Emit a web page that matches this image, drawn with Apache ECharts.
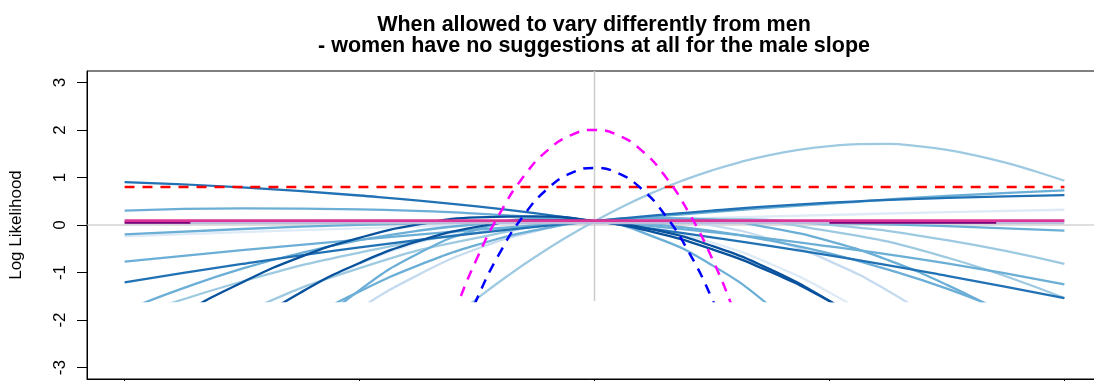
<!DOCTYPE html>
<html>
<head>
<meta charset="utf-8">
<script src="https://cdn.jsdelivr.net/npm/echarts@6/dist/echarts.min.js"></script>
<style>
  html, body { margin: 0; padding: 0; background: #fff; }
  #chart { width: 1094px; height: 381px; }
</style>
</head>
<body>
<div id="chart"></div>
<script>
// Slope grids (x axis values)
const xCoarse = [-2, -1.5, -1, -0.5, 0, 0.5, 1, 1.5, 2];
const xFine = [-2, -1.75, -1.5, -1.25, -1, -0.75, -0.5, -0.25, 0, 0.25, 0.5, 0.75, 1, 1.25, 1.5, 1.75, 2];
const xArch = [-0.625, -0.5, -0.375, -0.25, -0.125, 0, 0.125, 0.25, 0.375, 0.5, 0.625, 0.75, 0.875, 1,
               1.125, 1.25, 1.375, 1.5, 1.625, 1.75, 1.875, 2];
const xPeak = [-0.65, -0.6, -0.5, -0.4, -0.3, -0.2, -0.1, 0, 0.1, 0.2, 0.3, 0.4, 0.5, 0.6, 0.65];

const xTicks = [-2, -1, 0, 1, 2];
const yTicks = [-3, -2, -1, 0, 1, 2, 3];

// Per-woman log likelihood profiles, coarse grid
const llA = [0.90, 0.79, 0.62, 0.39, 0.08, -0.26, -0.64, -1.07, -1.54];
const llB = [0.30, 0.35, 0.33, 0.24, 0.08, -0.15, -0.45, -0.81, -1.25];
const llC = [-0.77, -0.53, -0.31, -0.10, 0.08, 0.27, 0.45, 0.61, 0.73];
const llD = [-1.21, -0.82, -0.47, -0.17, 0.08, 0.30, 0.47, 0.57, 0.63];
const llE = [-3.10, -1.86, -0.91, -0.27, 0.08, 0.125, -0.13, -0.685, -1.54];
const llF = [-0.24, -0.15, -0.07, 0.01, 0.08, 0.15, 0.21, 0.27, 0.32];
const llG = [-0.20, -0.085, 0.0, 0.055, 0.08, 0.075, 0.04, -0.025, -0.12];
const llH = [-1.98, -1.19, -0.58, -0.16, 0.08, 0.13, 0.0, -0.32, -0.82];

// The one profile that peaks well to the right of zero
const llI = [-2.045, -1.55, -1.09, -0.665, -0.275, 0.08, 0.40, 0.685, 0.935, 1.15, 1.33, 1.475, 1.585, 1.66,
             1.70, 1.705, 1.66, 1.58, 1.46, 1.31, 1.13, 0.93];

// Steeper profiles, fine grid (null = outside the drawn range)
const llJ = [-2.65, -1.86, -1.21, -0.67, -0.27, 0.01, 0.16, 0.18, 0.08, -0.15, -0.51, -0.99, -1.60, -2.34, null, null, null];
const llK = [null, null, -2.2, -1.42, -0.80, -0.34, -0.04, 0.10, 0.08, -0.10, -0.44, -0.94, -1.60, -2.42, null, null, null];
const llL = [null, null, -2.85, -2.06, -1.40, -0.85, -0.42, -0.11, 0.08, 0.15, 0.11, -0.06, -0.34, -0.74, -1.26, -1.90, -2.65];
const llM = [null, null, null, -2.63, -1.76, -1.05, -0.50, -0.13, 0.08, 0.12, -0.01, -0.30, -0.76, -1.39, -2.19, null, null];
const llN = [-1.80, -1.33, -0.92, -0.59, -0.32, -0.12, 0.015, 0.08, 0.08, 0.01, -0.125, -0.33, -0.60, -0.94, -1.34, -1.82, -2.36];
const llO = [null, null, null, -2.42, -1.37, -0.60, -0.10, 0.13, 0.08, -0.245, -0.845, -1.72, -2.87, null, null, null, null];
const llP = [null, null, -2.17, -1.42, -0.82, -0.37, -0.07, 0.08, 0.08, -0.07, -0.37, -0.82, -1.42, -2.17, null, null, null];

// Pooled / reference curves
const flatX = [-2, 2];
const pooledMale = [0.09, 0.09];
const pooledBase = [0.04, 0.04];
const purpleLeftX = [-2, -1.72];
const purpleRightX = [1.0, 1.71];
const purpleY = [0.05, 0.05];
const menLevel = [0.8, 0.8];
const womenPeak = [-2.56, -1.89, -0.70, 0.27, 1.03, 1.57, 1.89, 2.00, 1.89, 1.57, 1.03, 0.27, -0.70, -1.89, -2.56];
const menPeak = [-3.45, -2.76, -1.55, -0.56, 0.21, 0.76, 1.09, 1.20, 1.09, 0.76, 0.21, -0.56, -1.55, -2.76, -3.45];

const FONT = '"Liberation Sans", Arial, Helvetica, sans-serif';
const pairs = (xs, ys) => xs.map((x, i) => [x, ys[i] === null ? '-' : ys[i]]);

// Profiles drawn (pale first, dark on top)
const profiles = [
  { x: xCoarse, y: llF, color: '#deebf7' },
  { x: xFine,   y: llP, color: '#deebf7' },
  { x: xFine,   y: llM, color: '#c6dbef' },
  { x: xCoarse, y: llE, color: '#9ecae1' },
  { x: xCoarse, y: llH, color: '#9ecae1' },
  { x: xArch,   y: llI, color: '#9ecae1' },
  { x: xCoarse, y: llB, color: '#6baed6' },
  { x: xCoarse, y: llC, color: '#6baed6' },
  { x: xCoarse, y: llG, color: '#6baed6' },
  { x: xFine,   y: llL, color: '#6baed6' },
  { x: xFine,   y: llN, color: '#6baed6' },
  { x: xFine,   y: llO, color: '#6baed6' },
  { x: xCoarse, y: llA, color: '#2171b5' },
  { x: xCoarse, y: llD, color: '#2171b5' },
  { x: xFine,   y: llJ, color: '#08519c' },
  { x: xFine,   y: llK, color: '#08519c' }
];

function curve(data, color, width, type) {
  return {
    type: 'line', xAxisIndex: 1, yAxisIndex: 1, data: data,
    smooth: true, symbol: 'none', silent: true,
    lineStyle: { color: color, width: width, type: type || 'solid' }
  };
}

const series = [];
// zero line across the whole panel
series.push({
  type: 'line', xAxisIndex: 0, yAxisIndex: 0, symbol: 'none', silent: true,
  data: [[-2.16, 0], [2.16, 0]], lineStyle: { color: '#bebebe', width: 1 }
});
// vertical reference at slope 0
series.push(curve([[0, -1.6], [0, 3.24]], '#cccccc', 1.5));
profiles.forEach(p => series.push(curve(pairs(p.x, p.y), p.color, 2.3)));
series.push(curve(pairs(flatX, pooledBase), '#bcbddc', 2.5));
series.push(curve(pairs(purpleLeftX, purpleY), '#7a0177', 2.5));
series.push(curve(pairs(purpleRightX, purpleY), '#7a0177', 2.5));
series.push(curve(pairs(flatX, pooledMale), '#dd3497', 2.8));
series.push(curve(pairs(flatX, menLevel), '#ff0000', 2.5, [10, 8]));
series.push(curve(pairs(xPeak, womenPeak), '#ff00ff', 2.5, [10, 8]));
series.push(curve(pairs(xPeak, menPeak), '#0000ff', 2.5, [10, 8]));

const chart = echarts.init(document.getElementById('chart'), null, { renderer: 'canvas' });
chart.setOption({
  animation: false,
  backgroundColor: '#ffffff',
  title: {
    text: 'When allowed to vary differently from men\n- women have no suggestions at all for the male slope',
    left: 594, top: 15, padding: 0, textAlign: 'center',
    textStyle: { fontFamily: FONT, fontSize: 21.5, fontWeight: 'bold', color: '#000', lineHeight: 21 }
  },
  grid: [
    { left: 87, right: -8, top: 71, bottom: 2, show: true, borderColor: '#000', borderWidth: 1,
      backgroundColor: 'transparent', containLabel: false, outerBoundsMode: 'none' },
    { left: 87, right: -8, top: 71, bottom: 80, show: false, containLabel: false, outerBoundsMode: 'none' }
  ],
  xAxis: [
    {
      type: 'value', gridIndex: 0, min: -2.16, max: 2.16,
      axisLine: { show: true, onZero: false, lineStyle: { color: '#000', width: 1 } },
      axisTick: { show: true, customValues: xTicks, length: 10, lineStyle: { color: '#000' } },
      axisLabel: { show: false, customValues: xTicks },
      splitLine: { show: false }
    },
    { type: 'value', gridIndex: 1, min: -2.16, max: 2.16, show: false, splitLine: { show: false } }
  ],
  yAxis: [
    {
      type: 'value', gridIndex: 0, min: -3.24, max: 3.24,
      name: 'Log Likelihood', nameLocation: 'middle', nameGap: 62, nameRotate: 90,
      nameTextStyle: { fontFamily: FONT, fontSize: 17, color: '#000' },
      axisLine: { show: true, onZero: false, lineStyle: { color: '#000', width: 1 } },
      axisTick: { show: true, customValues: yTicks, length: 10, lineStyle: { color: '#000' } },
      axisLabel: { customValues: yTicks, rotate: 90, margin: 18, fontFamily: FONT, fontSize: 17, color: '#000' },
      splitLine: { show: false }
    },
    { type: 'value', gridIndex: 1, min: -1.6, max: 3.24, show: false, splitLine: { show: false } }
  ],
  series: series
});
</script>
</body>
</html>
